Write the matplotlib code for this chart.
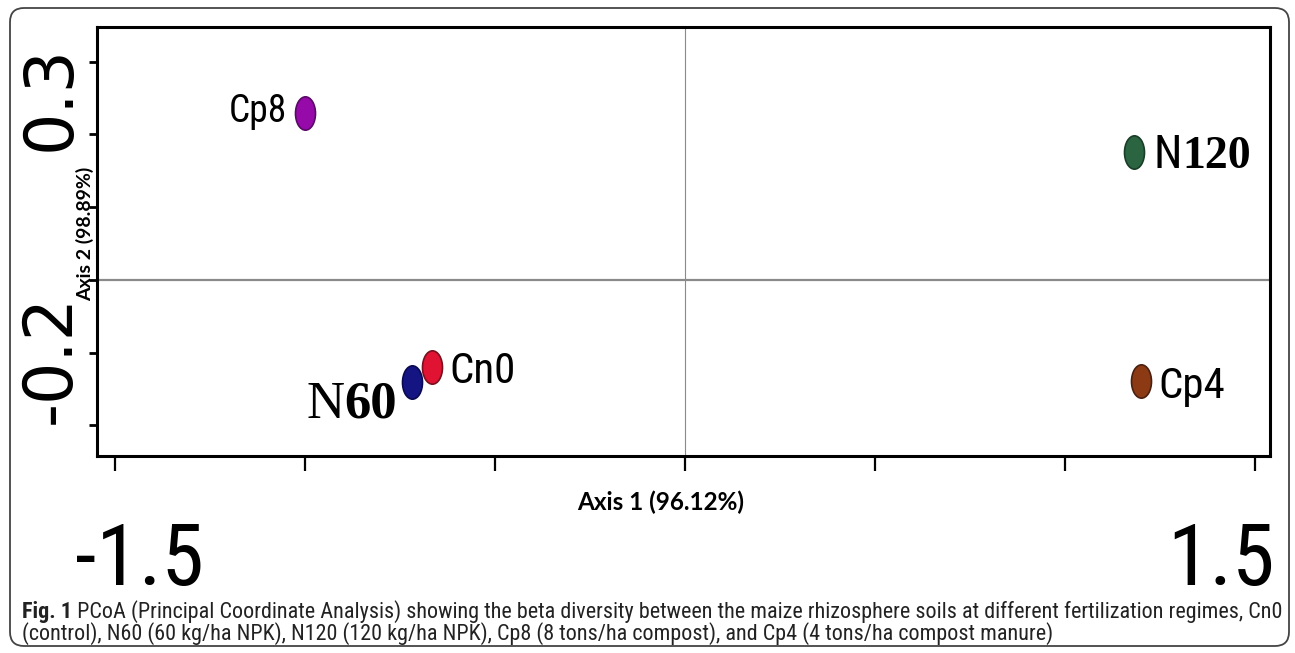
import matplotlib
matplotlib.use("Agg")
import matplotlib.pyplot as plt
from matplotlib import font_manager
from matplotlib.font_manager import FontProperties
from matplotlib.path import Path
from matplotlib.patches import FancyBboxPatch
from matplotlib.transforms import Affine2D, IdentityTransform

# PCoA scores for each fertilization regime
samples = ["Cp8", "N120", "Cp4", "Cn0", "N60"]
axis1 = [-1.00, 1.18, 1.20, -0.666, -0.718]
axis2 = [0.229, 0.176, -0.139, -0.120, -0.140]

x_ticks = [-1.5, -1.0, -0.5, 0.0, 0.5, 1.0, 1.5]
y_ticks = [-0.2, -0.1, 0.0, 0.1, 0.2, 0.3]
x_shown = ["-1.5", "1.5"]
y_shown = ["0.3", "-0.2"]

axis1_title = "Axis 1 (96.12%)"
axis2_title = "Axis 2 (98.89%)"
caption_head = "Fig. 1"
caption_body = ("PCoA (Principal Coordinate Analysis) showing the beta diversity between the maize "
                "rhizosphere soils at different fertilization regimes, Cn0")
caption_line2 = ("(control), N60 (60 kg/ha NPK), N120 (120 kg/ha NPK), Cp8 (8 tons/ha compost), "
                 "and Cp4 (4 tons/ha compost manure)")

fill_colors = {"Cp8": "#960aaa", "N120": "#2a6440", "Cp4": "#8c3a14",
               "Cn0": "#e01432", "N60": "#141482"}
edge_colors = {"Cp8": "#5a0a66", "N120": "#1a3d28", "Cp4": "#4a2010",
               "Cn0": "#7a0f1f", "N60": "#0a0a50"}


def is_weight(f, bold):
    w = f.weight if isinstance(f.weight, int) else {"normal": 400, "regular": 400,
                                                     "bold": 700}.get(str(f.weight), 400)
    return (w >= 600) if bold else (350 <= w <= 500)


def narrow_font(bold=False):
    fl = font_manager.fontManager.ttflist
    for name in ["Liberation Sans Narrow", "Arial Narrow", "Roboto Condensed",
                 "Open Sans Condensed", "Noto Sans Condensed", "DejaVu Sans Condensed"]:
        for f in fl:
            if f.name == name and f.style == "normal" and is_weight(f, bold):
                return f.fname
    for stretch in ["condensed", "semi-condensed", "extra-condensed"]:
        for f in fl:
            if (str(f.stretch) == stretch and f.style == "normal" and is_weight(f, bold)
                    and "Serif" not in f.name and "Mono" not in f.name):
                return f.fname
    return None


narrow_path = narrow_font()
narrow_bold_path = narrow_font(bold=True) or narrow_path


def sans(size, bold=False):
    path = narrow_bold_path if bold else narrow_path
    if path:
        return FontProperties(fname=path, size=size)
    return FontProperties(family="DejaVu Sans", size=size,
                          weight="bold" if bold else "normal")


def serif(size, bold=False):
    return FontProperties(family="Liberation Serif", size=size,
                          weight="bold" if bold else "normal")


W, H = 1295, 653
fig = plt.figure(figsize=(W / 100, H / 100), dpi=100)
fig.patch.set_facecolor("white")

# rounded frame around the whole figure
frame = FancyBboxPatch((10, 7), 1279, 638, boxstyle="round,pad=0,rounding_size=14",
                       transform=IdentityTransform(), facecolor="none",
                       edgecolor="#444444", linewidth=1.3)
fig.add_artist(frame)

ax = fig.add_axes([97 / W, 1 - 456 / H, (1270 - 97) / W, (456 - 27) / H])
ax.set_xlim(-1.547, 1.539)
ax.set_ylim(-0.242, 0.3475)

ax.axhline(0, color="#8a8a8a", lw=1.6, zorder=1)
ax.axvline(0, color="#8a8a8a", lw=0.8, zorder=1)

ellipse = Path.unit_circle().transformed(Affine2D().scale(0.6, 1.0))

for sp in ax.spines.values():
    sp.set_linewidth(2.2)
ax.set_xticks(x_ticks)
ax.set_yticks(y_ticks)
ax.set_xticklabels([])
ax.set_yticklabels([])
ax.tick_params(axis="x", direction="out", length=11, width=1.6)
ax.tick_params(axis="y", direction="out", length=6, width=2.0)

# sample labels: (pixel offset from the point, alignment, first part, bold serif part)
label_style = {
    "Cp8": dict(off=(-18, -9), ha="right", font=sans(27)),
    "N120": dict(off=(20, -16), ha="left", font=sans(33), tail=serif(33, bold=True)),
    "Cp4": dict(off=(17, -17), ha="left", font=sans(31)),
    "Cn0": dict(off=(18, -16), ha="left", font=sans(31)),
    "N60": dict(off=(-15, -36), ha="right", font=serif(38), tail=serif(38, bold=True)),
}

two_part = []
for name, x, y in zip(samples, axis1, axis2):
    ax.plot(x, y, marker=ellipse, ms=24, mfc=fill_colors[name],
            mec=edge_colors[name], mew=1.2, ls="none", zorder=3)
    st = label_style[name]
    if "tail" in st:
        two_part.append((name, x, y, st))
        continue
    ax.annotate(name, (x, y), xytext=st["off"], textcoords="offset pixels",
                ha=st["ha"], va="baseline", fontproperties=st["font"], color="black")

# "N" + bold digits, laid out side by side on one baseline
fig.canvas.draw()
for name, x, y in [(n, a, b) for n, a, b, _ in two_part]:
    st = label_style[name]
    head, tail = name[0], name[1:]
    px = ax.transData.transform((x, y))[0]
    if st["ha"] == "left":
        t1 = ax.annotate(head, (x, y), xytext=st["off"], textcoords="offset pixels",
                         ha="left", va="baseline", fontproperties=st["font"])
        fig.canvas.draw()
        edge = t1.get_window_extent().x1
        ax.annotate(tail, (x, y), xytext=(edge - px, st["off"][1]),
                    textcoords="offset pixels", ha="left", va="baseline",
                    fontproperties=st["tail"])
    else:
        t2 = ax.annotate(tail, (x, y), xytext=st["off"], textcoords="offset pixels",
                         ha="right", va="baseline", fontproperties=st["tail"])
        fig.canvas.draw()
        edge = t2.get_window_extent().x0
        ax.annotate(head, (x, y), xytext=(edge - px, st["off"][1]),
                    textcoords="offset pixels", ha="right", va="baseline",
                    fontproperties=st["font"])

# large end labels for the two axes
xt = ax.get_xaxis_transform()
ax.annotate(x_shown[0], (x_ticks[0], 0), xycoords=xt, xytext=(25, -105),
            textcoords="offset pixels", ha="center", va="center",
            fontproperties=sans(62), annotation_clip=False)
ax.annotate(x_shown[1], (x_ticks[-1], 0), xycoords=xt, xytext=(-34, -105),
            textcoords="offset pixels", ha="center", va="center",
            fontproperties=sans(62), annotation_clip=False)

yt = ax.get_yaxis_transform()
ax.annotate(y_shown[0], (0, y_ticks[-1]), xycoords=yt, xytext=(-46, -36),
            textcoords="offset pixels", ha="center", va="center", rotation=90,
            family="DejaVu Sans", fontsize=48, annotation_clip=False)
ax.annotate(y_shown[1], (0, y_ticks[0]), xycoords=yt, xytext=(-46, 66),
            textcoords="offset pixels", ha="center", va="center", rotation=90,
            family="DejaVu Sans", fontsize=48, annotation_clip=False)

fig.text(661 / W, 1 - 502 / H, axis1_title, ha="center", va="center",
         family="Lato", fontweight="bold", fontsize=17.5)
fig.text(85 / W, 1 - 234 / H, axis2_title, ha="center", va="center", rotation=90,
         family="Lato", fontweight="bold", fontsize=14)

# caption, sized so the first line runs across the frame
cap_size = 13.5
head = fig.text(22 / W, 1 - 618 / H, caption_head, ha="left", va="baseline",
                fontproperties=sans(cap_size, bold=True), color="#222222")
body = fig.text(0, 0, " " + caption_body, ha="left", va="baseline",
                fontproperties=sans(cap_size), color="#222222")
fig.canvas.draw()
line_w = head.get_window_extent().width + body.get_window_extent().width
cap_size = cap_size * 1261 / line_w
head.set_fontproperties(sans(cap_size, bold=True))
body.set_fontproperties(sans(cap_size))
fig.canvas.draw()
hx = head.get_window_extent().x1
body.set_position((hx / W, 1 - 618 / H))
fig.text(22 / W, 1 - 640 / H, caption_line2, ha="left", va="baseline",
         fontproperties=sans(cap_size), color="#222222")

fig.savefig("out.png", dpi=100, facecolor="white")
